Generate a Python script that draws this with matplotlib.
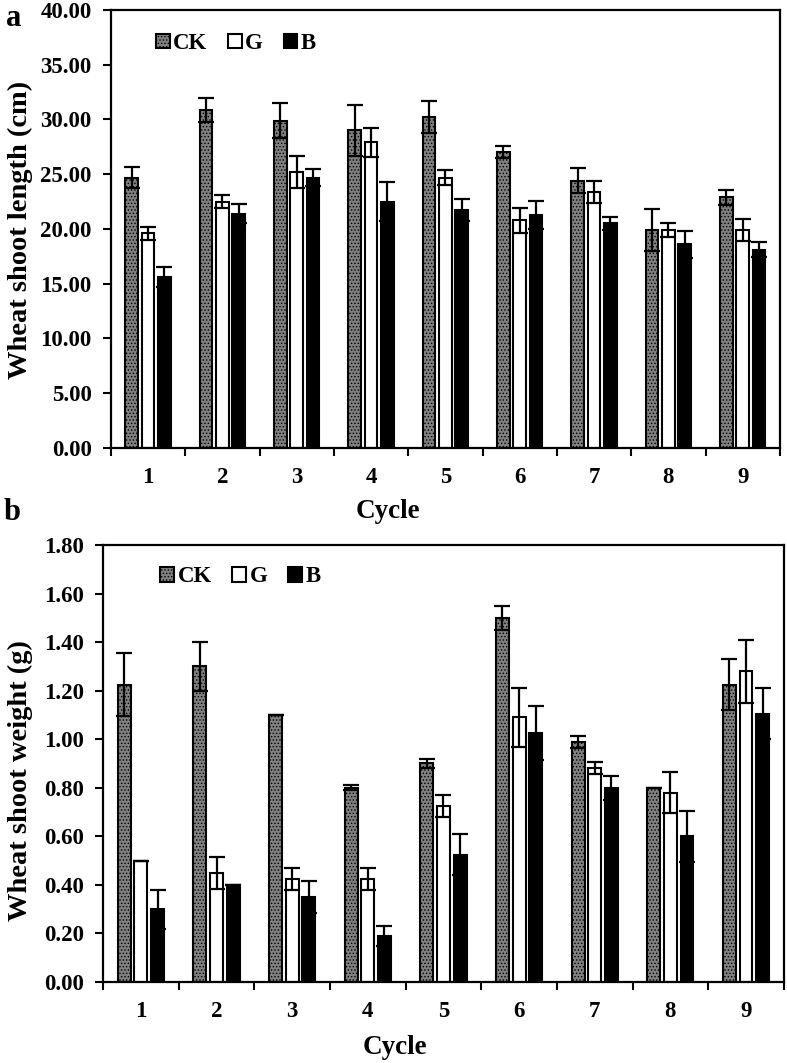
import numpy as np
import matplotlib
matplotlib.use("Agg")
import matplotlib.pyplot as plt
from matplotlib.ticker import FormatStrFormatter

plt.rcParams['font.family'] = ['Liberation Serif', 'DejaVu Serif']
plt.rcParams['font.weight'] = 'bold'
plt.rcParams['hatch.linewidth'] = 0.6

cycles = ['1', '2', '3', '4', '5', '6', '7', '8', '9']
series = ['CK', 'G', 'B']

# panel a: shoot length (cm)
len_ck = [24.7, 30.9, 29.9, 29.0, 30.2, 27.0, 24.4, 19.9, 22.9]
len_ck_err = [0.95, 1.1, 1.6, 2.3, 1.45, 0.55, 1.15, 1.95, 0.7]
len_g = [19.6, 22.5, 25.2, 27.9, 24.7, 20.8, 23.4, 19.9, 19.9]
len_g_err = [0.6, 0.6, 1.5, 1.3, 0.65, 1.15, 1.0, 0.65, 1.0]
len_b = [15.6, 21.4, 24.7, 22.5, 21.7, 21.3, 20.5, 18.6, 18.1]
len_b_err = [0.9, 0.85, 0.75, 1.8, 1.0, 1.3, 0.55, 1.25, 0.7]

# panel b: shoot weight (g)
wt_ck = [1.225, 1.30, 1.10, 0.80, 0.90, 1.50, 0.99, 0.80, 1.225]
wt_ck_err = [0.13, 0.10, 0.0, 0.01, 0.02, 0.05, 0.025, 0.0, 0.105]
wt_g = [0.50, 0.45, 0.425, 0.425, 0.725, 1.09, 0.88, 0.78, 1.28]
wt_g_err = [0.0, 0.065, 0.045, 0.045, 0.045, 0.12, 0.025, 0.085, 0.13]
wt_b = [0.30, 0.40, 0.35, 0.19, 0.525, 1.025, 0.80, 0.60, 1.105]
wt_b_err = [0.08, 0.0, 0.065, 0.04, 0.085, 0.11, 0.05, 0.105, 0.105]

styles = {
    'CK': dict(facecolor='#808080', hatch='.....'),
    'G': dict(facecolor='white'),
    'B': dict(facecolor='black'),
}
offsets = [-0.22, 0.0, 0.22]
bar_w = 0.17


def draw_panel(ax, vals, errs, ymax, ystep, legend_xy):
    x = np.arange(1, len(cycles) + 1)
    for name, off, v, e in zip(series, offsets, vals, errs):
        ax.bar(x + off, v, bar_w, yerr=e, label=name, edgecolor='black',
               linewidth=1.5, zorder=2,
               error_kw=dict(ecolor='black', elinewidth=1.6, capsize=6,
                             capthick=1.6, zorder=3),
               **styles[name])
    ax.set_xlim(0.5, 9.5)
    ax.set_ylim(0, ymax)
    ax.set_yticks(np.arange(0, ymax + ystep / 2, ystep))
    ax.yaxis.set_major_formatter(FormatStrFormatter('%.2f'))
    ax.set_xticks(np.arange(0.5, 10, 1.0))
    ax.set_xticklabels([])
    ax.set_xticks(x, minor=True)
    ax.set_xticklabels(cycles, minor=True)
    ax.tick_params(axis='x', which='major', direction='out', length=6, width=1.5)
    ax.tick_params(axis='x', which='minor', length=0, pad=14, labelsize=16.5)
    ax.tick_params(axis='y', direction='out', length=6, width=1.5, pad=8,
                   labelsize=16.5)
    for sp in ax.spines.values():
        sp.set_linewidth(1.6)
    ax.legend(ncol=3, frameon=False, loc='center left',
              bbox_to_anchor=legend_xy, borderaxespad=0, borderpad=0,
              handlelength=0.6, handleheight=0.6, handletextpad=0.15,
              columnspacing=0.9, fontsize=16.5)


fig = plt.figure(figsize=(7.87, 10.63), dpi=100)
ax1 = fig.add_axes([0.141, 0.5786, 0.850, 0.4120])
ax2 = fig.add_axes([0.131, 0.0762, 0.865, 0.4111])

draw_panel(ax1, [len_ck, len_g, len_b], [len_ck_err, len_g_err, len_b_err],
           40, 5, (0.067, 0.923))
draw_panel(ax2, [wt_ck, wt_g, wt_b], [wt_ck_err, wt_g_err, wt_b_err],
           1.8, 0.2, (0.084, 0.927))

W, H = 787, 1063
fig.text(20 / W, 1 - 230 / H, 'Wheat shoot length (cm)', rotation=90,
         ha='center', va='center', fontsize=20.5)
fig.text(20 / W, 1 - 781 / H, 'Wheat shoot weight (g)', rotation=90,
         ha='center', va='center', fontsize=20.5)
fig.text(388 / W, 1 - 512 / H, 'Cycle', ha='center', va='center', fontsize=19.5)
fig.text(395 / W, 1 - 1047 / H, 'Cycle', ha='center', va='center', fontsize=19.5)
fig.text(14 / W, 1 - 19 / H, 'a', ha='center', va='center', fontsize=22)
fig.text(12 / W, 1 - 513 / H, 'b', ha='center', va='center', fontsize=22)

fig.savefig('out.png', dpi=100)
